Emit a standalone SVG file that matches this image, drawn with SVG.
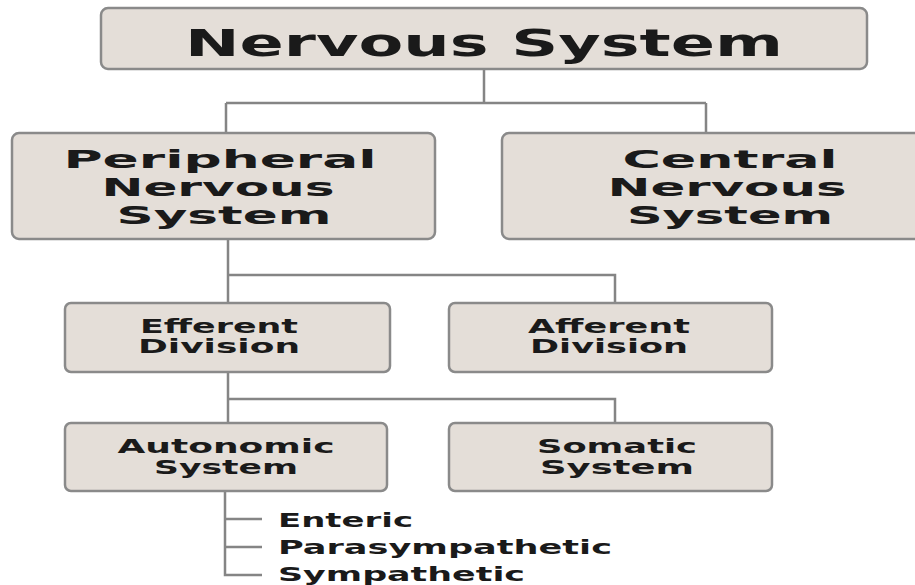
<svg xmlns="http://www.w3.org/2000/svg" width="915" height="585" viewBox="0 0 915 585">
<style>
.box{fill:#e4ded8;stroke:#8a8a8a;stroke-width:2.5}
.t{font-family:"DejaVu Sans","Liberation Sans",sans-serif;font-weight:bold;fill:#1a1a1a;text-anchor:middle}
.leaf{font-family:"DejaVu Sans","Liberation Sans",sans-serif;font-weight:bold;fill:#1a1a1a}
.c{fill:none;stroke:#858585;stroke-width:2.5}
</style>
<rect width="915" height="585" fill="#ffffff"/>
<g id="connectors">
<path class="c" d="M484 69V103M226 103H706M226 103V133M706 103V133"/>
<path class="c" d="M228 240V303M228 275H615V303"/>
<path class="c" d="M228 372V423M228 399H615V423"/>
<path class="c" d="M225 491V575H262M225 519H262M225 547H262"/>
</g>
<g id="nervous-system">
<rect class="box" x="101" y="8" width="766" height="61" rx="7"/>
<text class="t" x="484" y="56" font-size="38" textLength="598" lengthAdjust="spacingAndGlyphs">Nervous System</text>
</g>
<g id="peripheral">
<rect class="box" x="12" y="133" width="423" height="106" rx="7"/>
<text class="t" x="220" y="168" font-size="24" textLength="313" lengthAdjust="spacingAndGlyphs">Peripheral</text>
<text class="t" x="218" y="196" font-size="24" textLength="233" lengthAdjust="spacingAndGlyphs">Nervous</text>
<text class="t" x="224" y="224" font-size="24" textLength="215" lengthAdjust="spacingAndGlyphs">System</text>
</g>
<g id="central">
<rect class="box" x="502" y="133" width="454" height="106" rx="7"/>
<text class="t" x="730" y="168" font-size="24" textLength="215" lengthAdjust="spacingAndGlyphs">Central</text>
<text class="t" x="727" y="196" font-size="24" textLength="239" lengthAdjust="spacingAndGlyphs">Nervous</text>
<text class="t" x="730" y="224" font-size="24" textLength="206" lengthAdjust="spacingAndGlyphs">System</text>
</g>
<g id="efferent">
<rect class="box" x="65" y="303" width="325" height="69" rx="6"/>
<text class="t" x="219" y="333" font-size="19" textLength="158" lengthAdjust="spacingAndGlyphs">Efferent</text>
<text class="t" x="219" y="353" font-size="19" textLength="162" lengthAdjust="spacingAndGlyphs">Division</text>
</g>
<g id="afferent">
<rect class="box" x="449" y="303" width="323" height="69" rx="6"/>
<text class="t" x="609" y="333" font-size="19" textLength="162" lengthAdjust="spacingAndGlyphs">Afferent</text>
<text class="t" x="609" y="353" font-size="19" textLength="158" lengthAdjust="spacingAndGlyphs">Division</text>
</g>
<g id="autonomic">
<rect class="box" x="65" y="423" width="322" height="68" rx="6"/>
<text class="t" x="226" y="453" font-size="19" textLength="217" lengthAdjust="spacingAndGlyphs">Autonomic</text>
<text class="t" x="226" y="474" font-size="19" textLength="144" lengthAdjust="spacingAndGlyphs">System</text>
</g>
<g id="somatic">
<rect class="box" x="449" y="423" width="323" height="68" rx="6"/>
<text class="t" x="617" y="453" font-size="19" textLength="160" lengthAdjust="spacingAndGlyphs">Somatic</text>
<text class="t" x="617" y="474" font-size="19" textLength="154" lengthAdjust="spacingAndGlyphs">System</text>
</g>
<g id="enteric"><text class="leaf" x="278" y="527" font-size="20" textLength="135" lengthAdjust="spacingAndGlyphs">Enteric</text></g>
<g id="parasympathetic"><text class="leaf" x="278" y="554" font-size="20" textLength="334" lengthAdjust="spacingAndGlyphs">Parasympathetic</text></g>
<g id="sympathetic"><text class="leaf" x="278" y="581" font-size="20" textLength="247" lengthAdjust="spacingAndGlyphs">Sympathetic</text></g>
</svg>
